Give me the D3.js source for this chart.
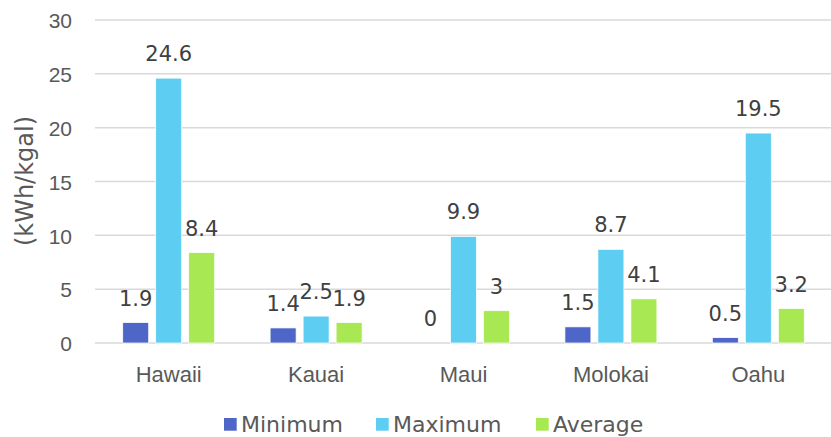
<!DOCTYPE html>
<html><head><meta charset="utf-8">
<script src="https://cdn.jsdelivr.net/npm/d3@7"></script>
<style>body{margin:0;background:#fff;} svg{display:block;font-family:"DejaVu Sans",sans-serif;}</style>
</head><body>
<svg id="c" width="831" height="437"></svg>
<script>
const categories = ["Hawaii","Kauai","Maui","Molokai","Oahu"];
const seriesNames = ["Minimum","Maximum","Average"];
const minimum = [1.9, 1.4, 0, 1.5, 0.5];
const maximum = [24.6, 2.5, 9.9, 8.7, 19.5];
const average = [8.4, 1.9, 3, 4.1, 3.2];
const yTicks = [0,5,10,15,20,25,30];
const colors = ["#4E66C8","#5DCDF2","#A8E852"];
const seriesValues = [minimum, maximum, average];

(function(){
const svg = d3.select("#c");
const mLeft = 95, mRight = 832, mTop = 20, mBottom = 343;
const y = d3.scaleLinear().domain([0,30]).range([mBottom, mTop]);
const x0 = d3.scaleBand().domain(categories).range([mLeft, mRight]).padding(0);
const bw = x0.bandwidth();
const x1 = d3.scaleBand().domain(seriesNames).range([bw*0.188, bw*(1-0.188)]).paddingInner(0.212).paddingOuter(0);

svg.append("g").selectAll("line").data(yTicks).join("line")
  .attr("x1", mLeft).attr("x2", mRight)
  .attr("y1", d=>y(d)).attr("y2", d=>y(d))
  .attr("stroke", "#D9D9D9").attr("stroke-width", 1.5);

const yAxis = d3.axisLeft(y).tickValues(yTicks).tickSize(0).tickPadding(0);
const ya = svg.append("g").attr("transform", `translate(72,1)`).call(yAxis);
ya.select(".domain").remove();
ya.selectAll("text").attr("fill","#595959").style("font-size","21px").style("font-family","inherit");

svg.append("text").attr("transform", `translate(33,181) rotate(-90)`)
  .attr("text-anchor","middle").attr("fill","#595959").style("font-size","24px").text("(kWh/kgal)");

const xAxis = d3.axisBottom(x0).tickSize(0).tickPadding(0);
const xa = svg.append("g").attr("transform", `translate(0,0)`).call(xAxis);
xa.select(".domain").remove();
xa.selectAll("text").attr("y", 382).attr("dy", null).attr("fill","#595959").style("font-size","22px").style("font-family","inherit");
xa.selectAll(".tick").attr("transform", d => `translate(${x0(d)+bw/2},0)`);

categories.forEach((cat, i) => {
  const g = svg.append("g").attr("transform", `translate(${x0(cat)},0)`);
  seriesNames.forEach((s, j) => {
    const v = seriesValues[j][i];
    g.append("rect").attr("x", x1(s)).attr("width", x1.bandwidth())
      .attr("y", y(v)).attr("height", y(0)-y(v)).attr("fill", colors[j])
      .attr("stroke","#fff").attr("stroke-width",0.75);
    g.append("text").attr("x", x1(s)+x1.bandwidth()/2).attr("y", y(v)-17)
      .attr("text-anchor","middle").attr("fill","#404040").style("font-size","21px").text(v);
  });
});

const legendX = [224, 376, 536];
const legendTX = [241, 393, 553];
const lg = svg.append("g");
seriesNames.forEach((s, j) => {
  lg.append("rect").attr("x", legendX[j]).attr("y", 418).attr("width", 12.7).attr("height", 12.7).attr("fill", colors[j]);
  lg.append("text").attr("x", legendTX[j]).attr("y", 432).attr("fill","#595959").style("font-size","22px").text(s);
});
})();
</script>
</body></html>
